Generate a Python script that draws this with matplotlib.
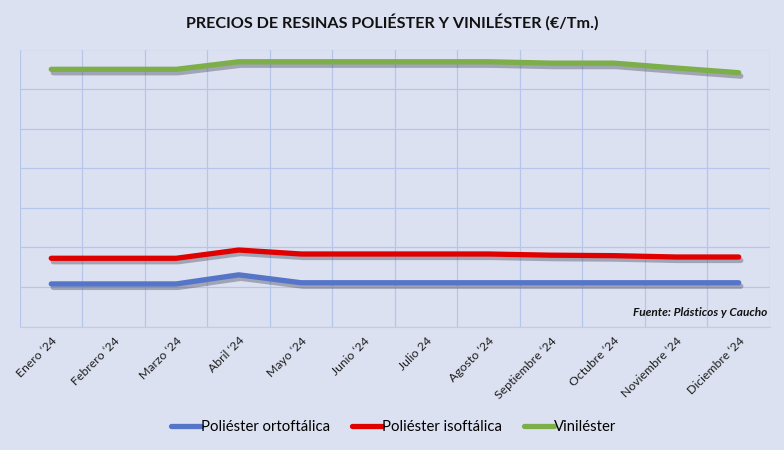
import numpy as np
import matplotlib
matplotlib.use("Agg")
import matplotlib.pyplot as plt
import matplotlib.patheffects as pe

meses = ["Enero \u201824", "Febrero \u201824", "Marzo \u201824", "Abril \u201824", "Mayo \u201824",
         "Junio \u201824", "Julio 24", "Agosto \u201824", "Septiembre \u201824", "Octubre \u201824",
         "Noviembre \u201824", "Diciembre \u201824"]
orto = [1540, 1540, 1540, 1655, 1555, 1555, 1555, 1555, 1555, 1555, 1555, 1555]
iso = [1864, 1864, 1864, 1968, 1918, 1918, 1918, 1918, 1903, 1897, 1880, 1880]
vinil = [4250, 4250, 4250, 4345, 4345, 4345, 4345, 4345, 4328, 4328, 4266, 4207]
series = ["Poliéster ortoftálica", "Poliéster isoftálica", "Viniléster"]
colores = ["#5575C8", "#E00000", "#7CAE4A"]

bg = "#DCE1F1"
plt.rcParams["font.family"] = ["Lato", "DejaVu Sans"]

fig = plt.figure(figsize=(7.84, 4.5), dpi=100, facecolor=bg)
ax = fig.add_axes([0.0255, 0.274, 0.9566, 0.616], facecolor=bg)

x = np.arange(len(meses))
shadow = [pe.SimpleLineShadow(offset=(1.5, -2.5), shadow_color="#4A4A5A", alpha=0.4),
          pe.Normal()]
for vals, name, c in zip([orto, iso, vinil], series, colores):
    ax.plot(x, vals, color=c, lw=3.8, solid_capstyle="round", solid_joinstyle="round",
            label=name, path_effects=shadow)

ax.set_xlim(-0.5, len(meses) - 0.5)
ax.set_ylim(1000, 4500)
ax.set_yticks(np.arange(1000, 4501, 500))
ax.set_xticks(x)
ax.set_xticks(np.arange(-0.5, len(meses), 1), minor=True)
ax.grid(True, which="minor", axis="x", color="#B6C6EA", lw=0.9)
ax.grid(True, which="major", axis="y", color="#B6C6EA", lw=0.9)
ax.set_axisbelow(True)
ax.tick_params(axis="both", which="both", length=0)
ax.set_yticklabels([])
ax.set_xticklabels(meses, rotation=45, ha="right", rotation_mode="anchor",
                   fontsize=8.8, color="#1E1E1E")
ax.tick_params(axis="x", pad=6)
for s in ["top", "right", "left"]:
    ax.spines[s].set_visible(False)
ax.spines["bottom"].set_color("#C9CCD6")

fig.text(0.5, 0.951, "PRECIOS DE RESINAS POLIÉSTER Y VINILÉSTER (€/Tm.)", ha="center",
         va="center", fontsize=11.6, fontweight="bold", color="#111111")
ax.text(0.997, 0.03, "Fuente: Plásticos y Caucho", transform=ax.transAxes, ha="right",
        va="bottom", fontsize=8.6, fontweight="bold", style="italic", color="#111111")

leg = fig.legend(loc="center", bbox_to_anchor=(0.502, 0.051), ncol=3, frameon=False,
                 fontsize=10.7, handlelength=2.0, handletextpad=0.0, columnspacing=1.5)
for h in leg.get_lines():
    h.set_solid_capstyle("round")
    h.set_path_effects([])

fig.savefig("out.png", dpi=100, facecolor=bg)
